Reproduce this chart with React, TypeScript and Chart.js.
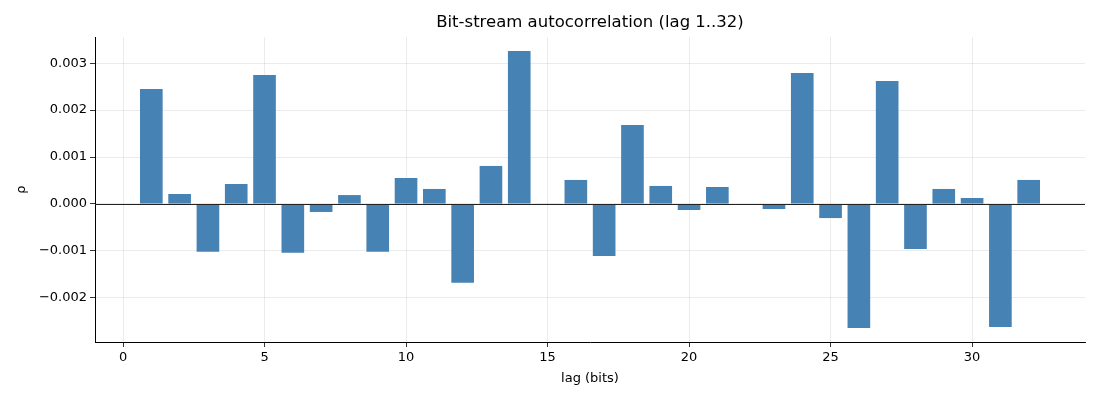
import { useEffect, useRef } from 'react';
import { Chart, registerables } from 'chart.js';

Chart.register(...registerables);

// lag 1..32
const lags = Array.from({ length: 32 }, (_, i) => i + 1);

// autocorrelation per lag
const rho = [
  0.00245, 0.000213, -0.00102, 0.000426, 0.00275, -0.00104, -0.00017, 0.00019,
  -0.00102, 0.000554, 0.00032, -0.00168, 0.00081, 0.00326, 0.00001, 0.000512,
  -0.00111, 0.00168, 0.000384, -0.000128, 0.000362, -0.00001, -0.000107, 0.00279,
  -0.0003, -0.00264, 0.00262, -0.00096, 0.00032, 0.000128, -0.00262, 0.000512,
];

const xTicks = [0, 5, 10, 15, 20, 25, 30];
const yTicks = [-0.002, -0.001, 0, 0.001, 0.002, 0.003];

const TITLE = 'Bit-stream autocorrelation (lag 1..32)';
const FONT = "'DejaVu Sans', sans-serif";

// black horizontal line at rho = 0, plus title centred over the plot area
const extras = {
  id: 'extras',
  afterDatasetsDraw(chart: any) {
    const { ctx, chartArea, scales } = chart;
    const y = Math.round(scales.y.getPixelForValue(0)) + 0.5;
    ctx.save();
    ctx.strokeStyle = '#222';
    ctx.lineWidth = 1;
    ctx.beginPath();
    ctx.moveTo(chartArea.left, y);
    ctx.lineTo(chartArea.right, y);
    ctx.stroke();
    ctx.restore();
  },
  afterDraw(chart: any) {
    const { ctx, chartArea } = chart;
    ctx.save();
    ctx.fillStyle = '#000';
    ctx.font = `16.5px ${FONT}`;
    ctx.textAlign = 'center';
    ctx.textBaseline = 'middle';
    ctx.fillText(TITLE, (chartArea.left + chartArea.right) / 2, 23);
    ctx.restore();
  },
};

export default function App() {
  const canvasRef = useRef<HTMLCanvasElement | null>(null);

  useEffect(() => {
    document.body.style.margin = '0';
    if (!canvasRef.current) return;

    const chart = new Chart(canvasRef.current, {
      type: 'bar',
      data: {
        datasets: [
          {
            data: lags.map((l, i) => ({ x: l, y: rho[i] })),
            backgroundColor: '#4682b4',
            borderWidth: 0,
            barPercentage: 0.8,
            categoryPercentage: 1,
          },
        ],
      },
      options: {
        animation: false,
        responsive: false,
        layout: { padding: { left: 0, right: 15, top: 37, bottom: 0 } },
        plugins: {
          legend: { display: false },
          tooltip: { enabled: false },
          title: { display: false },
        },
        scales: {
          x: {
            type: 'linear',
            min: -0.99,
            max: 33.99,
            offset: false,
            afterBuildTicks: (s: any) => {
              s.ticks = xTicks.map((v) => ({ value: v }));
            },
            afterFit: (s: any) => {
              s.height = 58;
            },
            grid: {
              offset: false,
              color: 'rgba(0,0,0,0.1)',
              lineWidth: 0.8,
              tickColor: '#000',
              tickLength: 5,
            },
            border: { color: '#000', width: 1 },
            ticks: {
              color: '#000',
              padding: 3,
              maxRotation: 0,
              font: { family: FONT, size: 13 },
            },
            title: {
              display: true,
              text: 'lag (bits)',
              color: '#000',
              font: { family: FONT, size: 13 },
              padding: { top: 4, bottom: 14 },
            },
          },
          y: {
            type: 'linear',
            min: -0.00294,
            max: 0.003557,
            afterBuildTicks: (s: any) => {
              s.ticks = yTicks.map((v) => ({ value: v }));
            },
            afterFit: (s: any) => {
              s.width = 95;
            },
            grid: {
              color: 'rgba(0,0,0,0.1)',
              lineWidth: 0.8,
              tickColor: '#000',
              tickLength: 5,
            },
            border: { color: '#000', width: 1 },
            ticks: {
              color: '#000',
              padding: 3,
              font: { family: FONT, size: 13 },
              callback: (v: any) => Number(v).toFixed(3).replace('-', '\u2212'),
            },
            title: {
              display: true,
              text: 'ρ',
              color: '#000',
              font: { family: FONT, size: 13 },
              padding: { top: 14, bottom: 4 },
            },
          },
        },
      },
      plugins: [extras],
    } as any);

    return () => chart.destroy();
  }, []);

  return (
    <div style={{ width: 1100, height: 400 }}>
      <canvas ref={canvasRef} width={1100} height={400} />
    </div>
  );
}
